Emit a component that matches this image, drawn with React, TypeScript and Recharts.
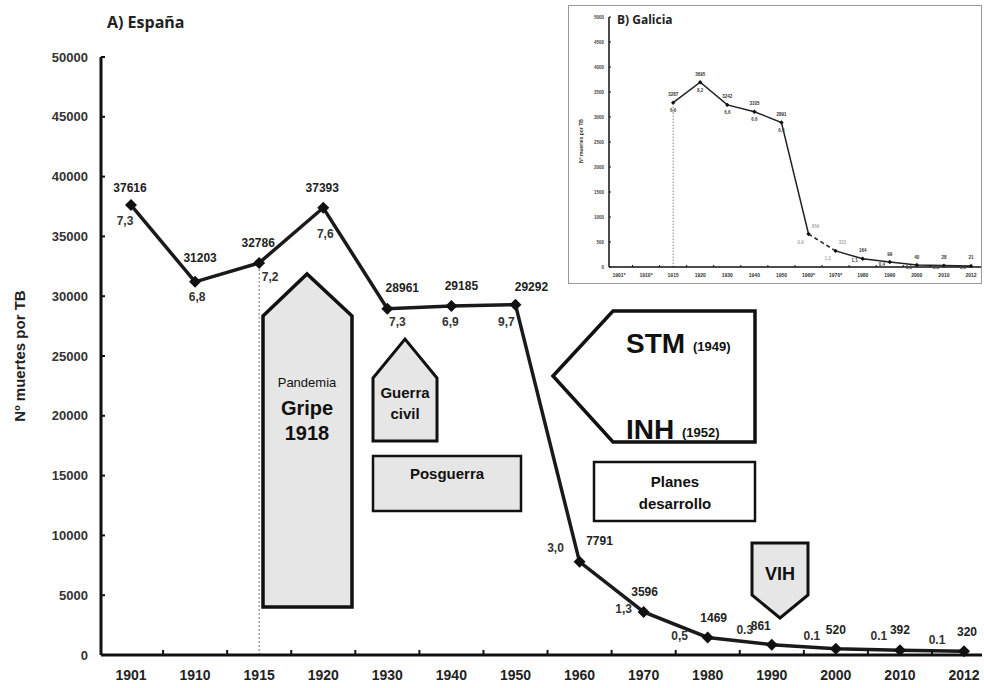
import React from 'react';
import { LineChart, Line, XAxis, YAxis, LabelList, ReferenceLine } from 'recharts';

// ---------- A) España ----------
const years = ['1901', '1910', '1915', '1920', '1930', '1940', '1950', '1960', '1970', '1980', '1990', '2000', '2010', '2012'];
const deaths = [37616, 31203, 32786, 37393, 28961, 29185, 29292, 7791, 3596, 1469, 861, 520, 392, 320];
const rates = ['7,3', '6,8', '7,2', '7,6', '7,3', '6,9', '9,7', '3,0', '1,3', '0,5', '0.3', '0.1', '0.1', '0.1'];
const yTicks = [0, 5000, 10000, 15000, 20000, 25000, 30000, 35000, 40000, 45000, 50000];

// ---------- B) Galicia ----------
const galiciaYears = ['1901*', '1910*', '1915', '1920', '1930', '1940', '1950', '1960*', '1970*', '1980', '1990', '2000', '2010', '2012'];
const galiciaDeaths: (number | null)[] = [null, null, 3287, 3695, 3242, 3105, 2891, 659, 322, 164, 99, 40, 28, 21];
const galiciaRates = ['', '', '6,6', '8,2', '6,6', '6,6', '6,0', '0,9', '1,3', '1,1', '0,4', '0,1', '0,1', '0,1'];
const galiciaTicks = [0, 500, 1000, 1500, 2000, 2500, 3000, 3500, 4000, 4500, 5000];

// label placement (style only): offsets from each point
const valueOffsets: [number, number][] = [
  [-1, -17], [5, -24], [-1, -20], [-1, -20], [15, -21], [10, -20], [16, -18],
  [20, -21], [1, -20], [6, -19], [-11, -19], [0, -19], [0, -20], [3, -19],
];
const rateOffsets: [number, number][] = [
  [-6, 16], [2, 15], [11, 14], [2, 26], [10, 13], [-1, 16], [-9, 17],
  [-24, -14], [-20, -3], [-28, -1], [-27, -15], [-24, -13], [-21, -14], [-27, -11],
];

const FONT = "'Liberation Sans', Arial, sans-serif";
const TITLE_FONT = "'Open Sans', 'Noto Sans', sans-serif";

const data = years.map((y, i) => ({ year: y, deaths: deaths[i], rate: rates[i] }));

const galiciaData = galiciaYears.map((y, i) => ({
  year: y,
  deaths: galiciaDeaths[i],
  rate: galiciaRates[i],
  solidA: i >= 2 && i <= 7 ? galiciaDeaths[i] : null,
  solidB: i >= 8 ? galiciaDeaths[i] : null,
  dashed: i === 7 || i === 8 ? galiciaDeaths[i] : null,
}));

const XTick = (props: any) => {
  const { x, y, payload, index } = props;
  const i = payload?.index ?? index;
  return (
    <g>
      {i > 0 && <line x1={x - 32} x2={x - 32} y1={y} y2={y - 5} stroke="#111" strokeWidth={2} />}
      <text x={x} y={y + 20} textAnchor="middle" dominantBaseline="central" fontFamily={FONT} fontWeight="bold" fontSize={14} fill="#222">
        {payload.value}
      </text>
    </g>
  );
};

const YTick = (props: any) => {
  const { x, y, payload } = props;
  return (
    <g>
      <line x1={x} x2={x + 4} y1={y} y2={y} stroke="#111" strokeWidth={2} />
      <text x={x - 13} y={y} textAnchor="end" dominantBaseline="central" fontFamily={FONT} fontWeight="bold" fontSize={13} fill="#333">
        {payload.value}
      </text>
    </g>
  );
};

const Diamond = (size: number, color: string) => (props: any) => {
  const { cx, cy, index } = props;
  if (cx == null || cy == null || props.value == null) return <g key={`d${index}`} />;
  return (
    <path
      key={`d${index}`}
      d={`M${cx},${cy - size}L${cx + size},${cy}L${cx},${cy + size}L${cx - size},${cy}Z`}
      fill={color}
    />
  );
};

const px = (p: any) => (p.x ?? p.viewBox?.x) as number;
const py = (p: any) => (p.y ?? p.viewBox?.y) as number;

const ValueLabel = (p: any) => {
  const i = p.index;
  const [dx, dy] = valueOffsets[i];
  return (
    <text x={px(p) + dx} y={py(p) + dy} textAnchor="middle" dominantBaseline="central" fontFamily={FONT} fontWeight="bold" fontSize={12} fill="#222">
      {p.value}
    </text>
  );
};

const RateLabel = (p: any) => {
  const i = p.index;
  const [dx, dy] = rateOffsets[i];
  return (
    <text x={px(p) + dx} y={py(p) + dy} textAnchor="middle" dominantBaseline="central" fontFamily={FONT} fontWeight="bold" fontSize={12} fill="#333">
      {p.value}
    </text>
  );
};

const GValueLabel = (p: any) => {
  if (p.value == null || p.value === '') return null;
  const gray = p.index === 7 || p.index === 8;
  const dx = gray ? 7 : 0;
  return (
    <text x={px(p) + dx} y={py(p) - 8} textAnchor="middle" dominantBaseline="central" fontFamily={FONT} fontWeight="bold" fontSize={4.5} fill={gray ? '#aaa' : '#333'}>
      {p.value}
    </text>
  );
};

const GRateLabel = (p: any) => {
  if (p.value == null || p.value === '') return null;
  const gray = p.index === 7 || p.index === 8;
  const late = p.index >= 9;
  const dx = gray || late ? -8 : 0;
  const dy = late ? 2 : 8;
  return (
    <text x={px(p) + dx} y={py(p) + dy} textAnchor="middle" dominantBaseline="central" fontFamily={FONT} fontWeight="bold" fontSize={4.5} fill={gray ? '#aaa' : '#444'}>
      {p.value}
    </text>
  );
};

const GXTick = (props: any) => {
  const { x, y, payload, index } = props;
  const i = payload?.index ?? index;
  return (
    <g>
      {i > 0 && <line x1={x - 13.6} x2={x - 13.6} y1={y} y2={y - 2} stroke="#111" strokeWidth={1} />}
      <text x={x} y={y + 8} textAnchor="middle" dominantBaseline="central" fontFamily={FONT} fontWeight="bold" fontSize={5} fill="#333">
        {payload.value}
      </text>
    </g>
  );
};

const GYTick = (props: any) => {
  const { x, y, payload } = props;
  return (
    <g>
      <line x1={x} x2={x + 2} y1={y} y2={y} stroke="#111" strokeWidth={1} />
      <text x={x - 5} y={y} textAnchor="end" dominantBaseline="central" fontFamily={FONT} fontWeight="bold" fontSize={4.5} fill="#444">
        {payload.value}
      </text>
    </g>
  );
};

const boxFill = '#e6e6e6';

export default function App() {
  return (
    <div style={{ position: 'absolute', left: 0, top: 0, width: 984, height: 688, background: '#fff', overflow: 'hidden' }}>
      <LineChart width={984} height={688} data={data} margin={{ top: 57, right: 2, bottom: 3, left: 0 }}>
        <XAxis
          dataKey="year"
          height={30}
          padding={{ left: 30, right: 18 }}
          interval={0}
          tickLine={false}
          tickSize={0}
          tickMargin={0}
          axisLine={{ stroke: '#111', strokeWidth: 3 }}
          tick={<XTick />}
        />
        <YAxis
          width={101}
          domain={[0, 50000]}
          ticks={yTicks}
          interval={0}
          tickLine={false}
          tickSize={0}
          tickMargin={0}
          axisLine={{ stroke: '#111', strokeWidth: 3 }}
          tick={<YTick />}
        />
        <ReferenceLine
          segment={[{ x: '1915', y: 0 }, { x: '1915', y: 32786 }]}
          stroke="#777"
          strokeWidth={1}
          strokeDasharray="2 2"
        />
        <Line
          type="linear"
          dataKey="deaths"
          stroke="#1a1a1a"
          strokeWidth={3.5}
          dot={Diamond(6, '#111')}
          activeDot={false}
          isAnimationActive={false}
        >
          <LabelList dataKey="deaths" content={ValueLabel} />
          <LabelList dataKey="rate" content={RateLabel} />
        </Line>
      </LineChart>

      {/* annotations */}
      <svg width={984} height={688} style={{ position: 'absolute', left: 0, top: 0, pointerEvents: 'none' }}>
        <text x={107} y={22} dominantBaseline="central" fontFamily={TITLE_FONT} fontWeight="bold" fontSize={16} fill="#222">A) España</text>
        <text
          x={19}
          y={356}
          transform="rotate(-90 19 356)"
          textAnchor="middle"
          dominantBaseline="central"
          fontFamily={FONT}
          fontWeight="bold"
          fontSize={15}
          fill="#222"
        >
          Nº muertes por TB
        </text>

        {/* Gripe 1918 */}
        <polygon points="263,607 263,316 307,274 352,316 352,607" fill={boxFill} stroke="#111" strokeWidth={3.5} strokeLinejoin="miter" />
        <text x={307} y={382} textAnchor="middle" dominantBaseline="central" fontFamily={FONT} fontSize={13} fill="#111">Pandemia</text>
        <text x={307} y={408} textAnchor="middle" dominantBaseline="central" fontFamily={FONT} fontWeight="bold" fontSize={20} fill="#111">Gripe</text>
        <text x={307} y={433} textAnchor="middle" dominantBaseline="central" fontFamily={FONT} fontWeight="bold" fontSize={20} fill="#111">1918</text>

        {/* Guerra civil */}
        <polygon points="373,441 373,378 405,339 437,378 437,441" fill={boxFill} stroke="#111" strokeWidth={3} />
        <text x={405} y={392} textAnchor="middle" dominantBaseline="central" fontFamily={FONT} fontWeight="bold" fontSize={15} fill="#111">Guerra</text>
        <text x={405} y={413} textAnchor="middle" dominantBaseline="central" fontFamily={FONT} fontWeight="bold" fontSize={15} fill="#111">civil</text>

        {/* Posguerra */}
        <rect x={373} y={456} width={148} height={55} fill={boxFill} stroke="#111" strokeWidth={2.5} />
        <text x={447} y={473} textAnchor="middle" dominantBaseline="central" fontFamily={FONT} fontWeight="bold" fontSize={15} fill="#111">Posguerra</text>

        {/* STM / INH */}
        <polygon points="553,376 613,311 755,311 755,442 613,442" fill="#fff" stroke="#111" strokeWidth={3.5} />
        <text x={626} y={343} dominantBaseline="central" fontFamily={FONT} fontWeight="bold" fontSize={28} fill="#111">
          STM <tspan fontSize={13} dy={3}>(1949)</tspan>
        </text>
        <text x={626} y={429} dominantBaseline="central" fontFamily={FONT} fontWeight="bold" fontSize={28} fill="#111">
          INH <tspan fontSize={13} dy={3}>(1952)</tspan>
        </text>

        {/* Planes desarrollo */}
        <rect x={594} y={462} width={161} height={59} fill="#fff" stroke="#111" strokeWidth={2.5} />
        <text x={675} y={481} textAnchor="middle" dominantBaseline="central" fontFamily={FONT} fontWeight="bold" fontSize={15} fill="#111">Planes</text>
        <text x={675} y={503} textAnchor="middle" dominantBaseline="central" fontFamily={FONT} fontWeight="bold" fontSize={15} fill="#111">desarrollo</text>

        {/* VIH */}
        <polygon points="752,543 808,543 808,595 780,618 752,595" fill={boxFill} stroke="#111" strokeWidth={3} />
        <text x={780} y={574} textAnchor="middle" dominantBaseline="central" fontFamily={FONT} fontWeight="bold" fontSize={18} fill="#111">VIH</text>
      </svg>

      {/* B) Galicia inset */}
      <div
        style={{
          position: 'absolute',
          left: 568,
          top: 5,
          width: 414,
          height: 279,
          border: '1px solid #999',
          background: '#fff',
          boxSizing: 'border-box',
        }}
      >
        <LineChart width={412} height={277} data={galiciaData} margin={{ top: 11, right: 0, bottom: 2, left: 0 }}>
          <XAxis
            dataKey="year"
            height={14}
            padding={{ left: 10, right: 10 }}
            interval={0}
            tickLine={false}
            tickSize={0}
            tickMargin={0}
            axisLine={{ stroke: '#111', strokeWidth: 1.5 }}
            tick={<GXTick />}
          />
          <YAxis
            width={40}
            domain={[0, 5000]}
            ticks={galiciaTicks}
            interval={0}
            tickLine={false}
            tickSize={0}
            tickMargin={0}
            axisLine={{ stroke: '#111', strokeWidth: 1.5 }}
            tick={<GYTick />}
          />
          <ReferenceLine
            segment={[{ x: '1915', y: 0 }, { x: '1915', y: 3287 }]}
            stroke="#888"
            strokeWidth={1}
            strokeDasharray="1.5 1.5"
          />
          <Line type="linear" dataKey="solidA" stroke="#222" strokeWidth={1.5} dot={false} activeDot={false} connectNulls={false} isAnimationActive={false} />
          <Line type="linear" dataKey="solidB" stroke="#222" strokeWidth={1.5} dot={false} activeDot={false} connectNulls={false} isAnimationActive={false} />
          <Line type="linear" dataKey="dashed" stroke="#222" strokeWidth={1.5} strokeDasharray="4 3" dot={false} activeDot={false} isAnimationActive={false} />
          <Line type="linear" dataKey="deaths" stroke="none" dot={Diamond(2.2, '#111')} activeDot={false} isAnimationActive={false}>
            <LabelList dataKey="deaths" content={GValueLabel} />
            <LabelList dataKey="rate" content={GRateLabel} />
          </Line>
        </LineChart>
        <svg width={412} height={277} style={{ position: 'absolute', left: 0, top: 0, pointerEvents: 'none' }}>
          <text x={48} y={13} dominantBaseline="central" fontFamily={TITLE_FONT} fontWeight="bold" fontSize={12} fill="#222">B) Galicia</text>
          <text
            x={12}
            y={135}
            transform="rotate(-90 12 135)"
            textAnchor="middle"
            dominantBaseline="central"
            fontFamily={FONT}
            fontWeight="bold"
            fontSize={5}
            fill="#333"
          >
            Nº muertes por TB
          </text>
        </svg>
      </div>
    </div>
  );
}
